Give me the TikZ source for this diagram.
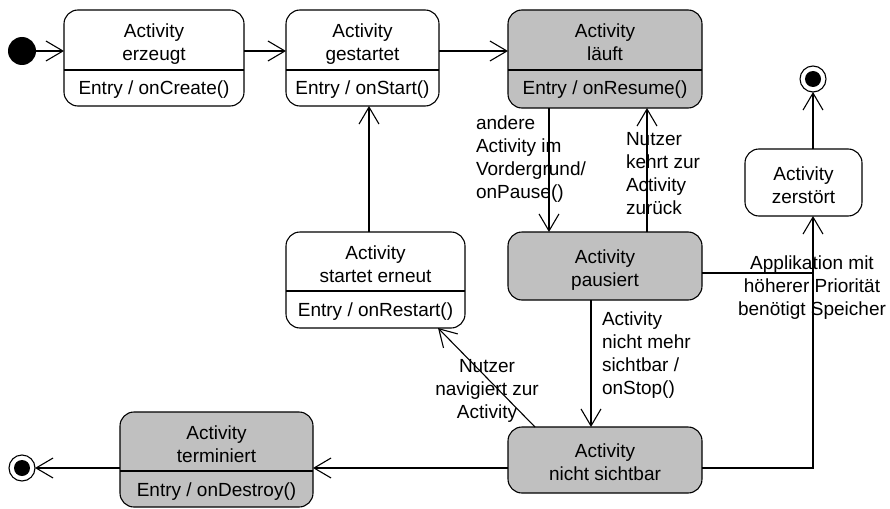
\documentclass[tikz,border=0pt]{standalone}
\usepackage{fontspec}
\setmainfont{Liberation Sans}
\usetikzlibrary{arrows.meta}
\definecolor{stgray}{RGB}{192,192,192}
\begin{document}
\begin{tikzpicture}[x=1pt,y=-1pt,
  stbox/.style={draw=black, line width=1.1pt, rounded corners=14pt, inner sep=0pt, outer sep=0pt, fill=white},
  stgraybox/.style={stbox, fill=stgray},
  txt/.style={font=\fontsize{19}{23}\selectfont, inner sep=0pt, outer sep=0pt, align=center},
  ltxt/.style={txt, align=left},
  conn/.style={line width=1.1pt, -{Straight Barb[length=17pt,width=20pt]}},
  plainline/.style={line width=1.1pt}
]
\useasboundingbox (0,0) rectangle (890,508);

% states
\node[stbox, minimum width=180pt, minimum height=96pt] (erzeugt) at (154,58) {};
\node[stbox, minimum width=153pt, minimum height=96pt] (gestartet) at (362.5,58) {};
\node[stgraybox, minimum width=194pt, minimum height=98pt] (laeuft) at (605,59) {};
\node[stbox, minimum width=117pt, minimum height=67pt] (zerstoert) at (803.5,182.5) {};
\node[stbox, minimum width=179pt, minimum height=96pt] (restart) at (375.5,280) {};
\node[stgraybox, minimum width=194pt, minimum height=68pt] (pausiert) at (605,266) {};
\node[stgraybox, minimum width=194pt, minimum height=66pt] (nichtsichtbar) at (605,460) {};
\node[stgraybox, minimum width=193pt, minimum height=95pt] (terminiert) at (216.5,459.5) {};

% dividers
\draw[plainline] ([yshift=-60pt]erzeugt.north west) -- ([yshift=-60pt]erzeugt.north east);
\draw[plainline] ([yshift=-60pt]gestartet.north west) -- ([yshift=-60pt]gestartet.north east);
\draw[plainline] ([yshift=-60pt]laeuft.north west) -- ([yshift=-60pt]laeuft.north east);
\draw[plainline] ([yshift=-59pt]restart.north west) -- ([yshift=-59pt]restart.north east);
\draw[plainline] ([yshift=-59pt]terminiert.north west) -- ([yshift=-59pt]terminiert.north east);

% state texts
\node[txt, anchor=north] (erzeugtT) at ([yshift=-14.2pt]erzeugt.north) {Activity\\erzeugt};
\node[txt, anchor=base] (erzeugtE) at ([yshift=-85pt]erzeugt.north) {Entry / onCreate()};
\node[txt, anchor=north] (gestartetT) at ([yshift=-14.2pt]gestartet.north) {Activity\\gestartet};
\node[txt, anchor=base] (gestartetE) at ([yshift=-85pt]gestartet.north) {Entry / onStart()};
\node[txt, anchor=north] (laeuftT) at ([yshift=-14.2pt]laeuft.north) {Activity\\läuft};
\node[txt, anchor=base] (laeuftE) at ([yshift=-85pt]laeuft.north) {Entry / onResume()};
\node[txt, anchor=north] (restartT) at ([yshift=-14.2pt]restart.north) {Activity\\startet erneut};
\node[txt, anchor=base] (restartE) at ([yshift=-84pt]restart.north) {Entry / onRestart()};
\node[txt, anchor=north] (terminiertT) at ([yshift=-14.2pt]terminiert.north) {Activity\\terminiert};
\node[txt, anchor=base] (terminiertE) at ([yshift=-84pt]terminiert.north) {Entry / onDestroy()};
\node[txt, anchor=north] (zerstoertT) at ([yshift=-18pt]zerstoert.north) {Activity\\zerstört};
\node[txt, anchor=north] (pausiertT) at ([yshift=-18pt]pausiert.north) {Activity\\pausiert};
\node[txt, anchor=north] (nichtsichtbarT) at ([yshift=-17pt]nichtsichtbar.north) {Activity\\nicht sichtbar};

% pseudo states
\node[circle, fill=black, minimum size=28pt, inner sep=0pt, outer sep=0pt] (init) at (22,51) {};
\node[circle, draw, line width=1.1pt, minimum size=26pt, inner sep=0pt, outer sep=0pt] (endtop) at (813,79) {};
\node[circle, fill=black, minimum size=16pt, inner sep=0pt] (endtopdot) at (endtop) {};
\node[circle, draw, line width=1.1pt, minimum size=26pt, inner sep=0pt, outer sep=0pt] (endbot) at (22,468) {};
\node[circle, fill=black, minimum size=16pt, inner sep=0pt] (endbotdot) at (endbot) {};

% labels
\node[ltxt, anchor=north west] (lblpause) at (476,116.2) {andere\\Activity im\\Vordergrund/\\onPause()};
\node[ltxt, anchor=north west] (lblresume) at (626,132.2) {Nutzer\\kehrt zur\\Activity\\zurück};
\node[ltxt, anchor=north west] (lblstop) at (602,312.2) {Activity\\nicht mehr\\sichtbar /\\onStop()};
\node[txt, anchor=north] (lblmem) at (812,256.2) {Applikation mit\\höherer Priorität\\benötigt Speicher};
\node[txt, anchor=north] (lblnav) at (487,359.2) {Nutzer\\navigiert zur\\Activity};

% connectors
\draw[conn] (init) -- (init -| erzeugt.west);
\draw[conn] ([yshift=7pt]erzeugt.east) -- ([yshift=7pt]gestartet.west);
\draw[conn] ([yshift=7pt]gestartet.east) coordinate (g1) -- (g1 -| laeuft.west);
\draw[conn] ([xshift=-56pt]laeuft.south) -- ([xshift=-56pt]pausiert.north);
\draw[conn] ([xshift=42pt]pausiert.north) -- ([xshift=42pt]laeuft.south);
\draw[conn] ([xshift=-6.5pt]restart.north) coordinate (r1) -- (r1 |- gestartet.south);
\draw[conn] ([xshift=-14pt]pausiert.south) -- ([xshift=-14pt]nichtsichtbar.north);
\draw[conn] ([xshift=-70pt]nichtsichtbar.north) -- ([xshift=62.5pt]restart.south);
\draw[conn] ([yshift=-8pt]nichtsichtbar.west) coordinate (n1) -- (n1 -| terminiert.east);
\draw[conn] (n1 -| terminiert.west) -- (endbot);
\coordinate (zx) at ([xshift=9.5pt]zerstoert.south);
\draw[conn] ([yshift=-8pt]nichtsichtbar.east) -| (zx);
\draw[plainline] ([yshift=-7pt]pausiert.east) coordinate (p1) -- (p1 -| zx);
\draw[conn] ([xshift=9.5pt]zerstoert.north) -- (endtop);
\end{tikzpicture}
\end{document}
